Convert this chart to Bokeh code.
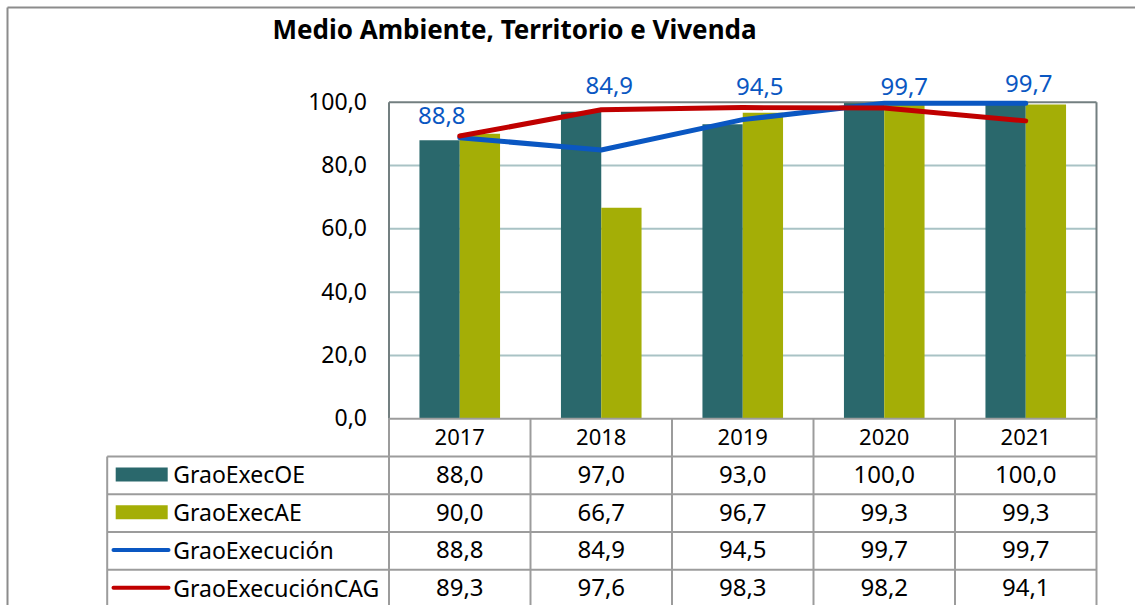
from bokeh.plotting import figure
from bokeh.models import Range1d
from bokeh.core.properties import value
from bokeh.embed import file_html
from bokeh.resources import INLINE

# ---------------- data ----------------
title_text = "Medio Ambiente, Territorio e Vivenda"
years = ["2017", "2018", "2019", "2020", "2021"]
series_names = ["GraoExecOE", "GraoExecAE", "GraoExecución", "GraoExecuciónCAG"]
grao_exec_oe = [88.0, 97.0, 93.0, 100.0, 100.0]
grao_exec_ae = [90.0, 66.7, 96.7, 99.3, 99.3]
grao_execucion = [88.8, 84.9, 94.5, 99.7, 99.7]
grao_execucion_cag = [89.3, 97.6, 98.3, 98.2, 94.1]
y_ticks = [0, 20, 40, 60, 80, 100]
y_tick_labels = ["0,0", "20,0", "40,0", "60,0", "80,0", "100,0"]

# ---------------- styles / layout ----------------
C_OE = "#2a686c"
C_AE = "#a4ae06"
C_BLUE = "#0a57c2"
C_RED = "#c00000"
C_GRID = "#a9c3c5"
C_FRAME = "#737f80"
C_TABLE = "#9c9c9c"
C_BORDER = "#8c8c8c"
FONT = value("Noto Sans")

# baseline correction (px) for alphabetic text in this renderer
BF = -9

# manual data-label nudges (screen px), as in the original chart
lab_dx = [-18, 8, 17, 20, 3]
lab_dy = [-13 + BF, -56 + BF, -24 + BF, -8 + BF, -11 + BF]

W, H = 1135, 605
OX, OY = 0, 0
FX0, FX1 = 388.5, 1096.0
FY100, FY0 = 101.7, 418.3
n = len(years)
KX = (FX1 - FX0) / n
KY = (FY0 - FY100) / 100.0


def X(px):
    return (px - FX0) / KX


def Y(py):
    return (FY0 - py) / KY


def fmt(v):
    return f"{v:.1f}".replace(".", ",")


p = figure(width=W, height=H,
           x_range=Range1d(X(OX), X(OX + W)),
           y_range=Range1d(Y(OY + H), Y(OY)),
           output_backend="svg", toolbar_location=None,
           x_axis_location=None, y_axis_location=None,
           title=None, min_border=0)
p.outline_line_color = None
p.background_fill_color = "white"
p.border_fill_color = "white"
for g in p.grid:
    g.visible = False

xc = [i + 0.5 for i in range(n)]

# gridlines
grid_vals = [t for t in y_ticks if 0 < t < 100]
p.segment(x0=[0] * len(grid_vals), x1=[n] * len(grid_vals), y0=grid_vals, y1=grid_vals,
          line_color=C_GRID, line_width=2)

# bars
BW = 40.3 / KX
p.vbar(x=[c - BW / 2 for c in xc], width=BW, top=grao_exec_oe, bottom=0,
       fill_color=C_OE, line_color=None)
p.vbar(x=[c + BW / 2 for c in xc], width=BW, top=grao_exec_ae, bottom=0,
       fill_color=C_AE, line_color=None)

# plot frame
top = max(y_ticks)
p.segment(x0=[0, 0, n], x1=[n, 0, n], y0=[top, 0, 0], y1=[top, top, top],
          line_color=C_FRAME, line_width=2)

# lines
p.line(xc, grao_execucion, line_color=C_BLUE, line_width=5, line_cap="round", line_join="round")
p.line(xc, grao_execucion_cag, line_color=C_RED, line_width=5, line_cap="round", line_join="round")

# data labels
p.text(x=xc, y=grao_execucion, text=[fmt(v) for v in grao_execucion],
       x_offset=lab_dx, y_offset=lab_dy, text_align="center", text_baseline="alphabetic",
       text_color=C_BLUE, text_font=FONT, text_font_size="24px")

# y tick labels
p.text(x=[0] * len(y_ticks), y=y_ticks, text=y_tick_labels, x_offset=-22, y_offset=8 + BF,
       text_align="right", text_baseline="alphabetic", text_color="#000000",
       text_font=FONT, text_font_size="23px")

# title
p.text(x=[X(514)], y=[Y(37)], text=[title_text], y_offset=BF, text_align="center",
       text_baseline="alphabetic", text_color="#000000", text_font=FONT,
       text_font_size="26px", text_font_style="bold")

# ---------------- data table ----------------
ROW = 37.75
LEG_X0 = 106.7
bottom_y = Y(OY + H)
nrows = len(series_names)

hy = [Y(FY0 + k * ROW) for k in range(1, nrows + 1)]
p.segment(x0=[X(LEG_X0)] * nrows, x1=[n] * nrows, y0=hy, y1=hy, line_color=C_TABLE, line_width=2)
p.segment(x0=[0], x1=[n], y0=[0], y1=[0], line_color=C_TABLE, line_width=2)
vx = list(range(n + 1))
p.segment(x0=vx, x1=vx, y0=[0] * len(vx), y1=[bottom_y] * len(vx), line_color=C_TABLE, line_width=2)
p.segment(x0=[X(LEG_X0)], x1=[X(LEG_X0)], y0=[Y(FY0 + ROW)], y1=[bottom_y],
          line_color=C_TABLE, line_width=2)

# header years
p.text(x=xc, y=[Y(FY0 + ROW / 2)] * n, text=years, y_offset=8 + BF,
       text_align="center", text_baseline="alphabetic", text_color="#000000",
       text_font=FONT, text_font_size="22px")

all_series = [grao_exec_oe, grao_exec_ae, grao_execucion, grao_execucion_cag]
for r, s in enumerate(all_series):
    cy = Y(FY0 + (r + 1.5) * ROW)
    p.text(x=xc, y=[cy] * n, text=[fmt(v) for v in s], y_offset=8 + BF,
           text_align="center", text_baseline="alphabetic", text_color="#000000",
           text_font=FONT, text_font_size="24px")
    p.text(x=[X(LEG_X0 + 66)], y=[cy], text=[series_names[r]], y_offset=8 + BF,
           text_align="left", text_baseline="alphabetic", text_color="#000000",
           text_font=FONT, text_font_size="23px")

# legend keys
key_colors = [C_OE, C_AE]
for r in range(2):
    cy = Y(FY0 + (r + 1.5) * ROW - 1)
    p.rect(x=[X(LEG_X0 + 34.5)], y=[cy], width=52, height=14,
           width_units="screen", height_units="screen",
           fill_color=key_colors[r], line_color=None)
line_colors = [C_BLUE, C_RED]
for r in range(2, 4):
    cy = Y(FY0 + (r + 1.5) * ROW - 1)
    p.segment(x0=[X(113)], x1=[X(168)], y0=[cy], y1=[cy], line_color=line_colors[r - 2],
              line_width=4, line_cap="round")

# outer border (left and top), as in the original frame
p.segment(x0=[X(7), X(7)], x1=[X(7), X(OX + W)],
          y0=[Y(7), Y(7)], y1=[Y(OY + H), Y(7)],
          line_color=C_BORDER, line_width=2)

open("out.html", "w").write(file_html(p, INLINE))
